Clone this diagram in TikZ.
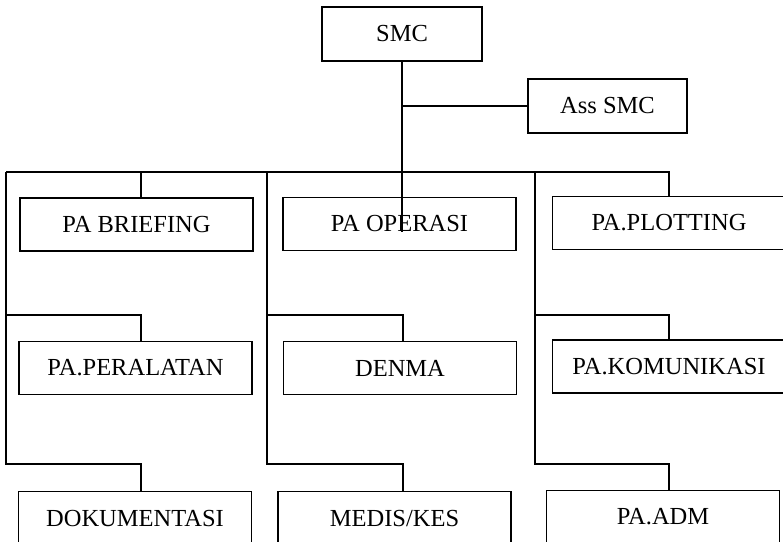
\documentclass[tikz,border=0pt]{standalone}
\usepackage{fontspec}
\setmainfont{Liberation Serif}
\begin{document}
\begin{tikzpicture}[x=1pt,y=-1pt,
  unit/.style={draw, line width=1.5pt, minimum width=233pt, minimum height=53pt,
               inner sep=0pt, font=\fontsize{24.5}{29}\selectfont},
  link/.style={line width=1.25pt}]
\clip (0,0) rectangle (783,541);

% command level
\node[unit, minimum width=160pt, minimum height=54pt] (smc) at (402,34) {SMC};
\node[unit, minimum width=159pt, minimum height=54pt] (ass) at (607.5,106) {Ass SMC};

% first row of units
\node[unit] (brief)    at (136.5,224.5) {PA BRIEFING};
\node[unit] (operasi)  at (399.5,224)   {PA OPERASI};
\node[unit] (plotting) at (669,223)     {PA.PLOTTING};

% second row
\node[unit] (peral) at (135.5,368) {PA.PERALATAN};
\node[unit] (denma) at (400,368)   {DENMA};
\node[unit] (komun) at (669,366.5) {PA.KOMUNIKASI};

% third row
\node[unit] (doku)  at (135,518)   {DOKUMENTASI};
\node[unit] (medis) at (394.5,518) {MEDIS/KES};
\node[unit] (adm)   at (663,517)   {PA.ADM};

% bus points: column spines (s) and feeders (k)
\coordinate (s1) at (6,172);
\coordinate (s2) at (267,172);
\coordinate (s3) at (535,172);
\coordinate (k1) at (141,172);
\coordinate (k2) at (403,172);
\coordinate (k3) at (669,172);
\coordinate (r1) at (0,315);
\coordinate (r2) at (0,464);
\coordinate (trunk end) at (402,232);

% trunk from SMC and the assistant branch
\draw[link] (smc.south) -- (trunk end);
\draw[link] (smc.south |- ass.west) -- (ass.west);

% main bus
\draw[link] (s1) -- (k3) -- (k3 |- plotting.north);

% column 1
\draw[link] (k1) -- (k1 |- brief.north);
\draw[link] (s1) -- (s1 |- r2) -- (k1 |- r2) -- (k1 |- doku.north);
\draw[link] (s1 |- r1) -- (k1 |- r1) -- (k1 |- peral.north);

% column 2
\draw[link] (s2) -- (s2 |- r2) -- (k2 |- r2) -- (k2 |- medis.north);
\draw[link] (s2 |- r1) -- (k2 |- r1) -- (k2 |- denma.north);

% column 3
\draw[link] (s3) -- (s3 |- r2) -- (k3 |- r2) -- (k3 |- adm.north);
\draw[link] (s3 |- r1) -- (k3 |- r1) -- (k3 |- komun.north);
\end{tikzpicture}
\end{document}
